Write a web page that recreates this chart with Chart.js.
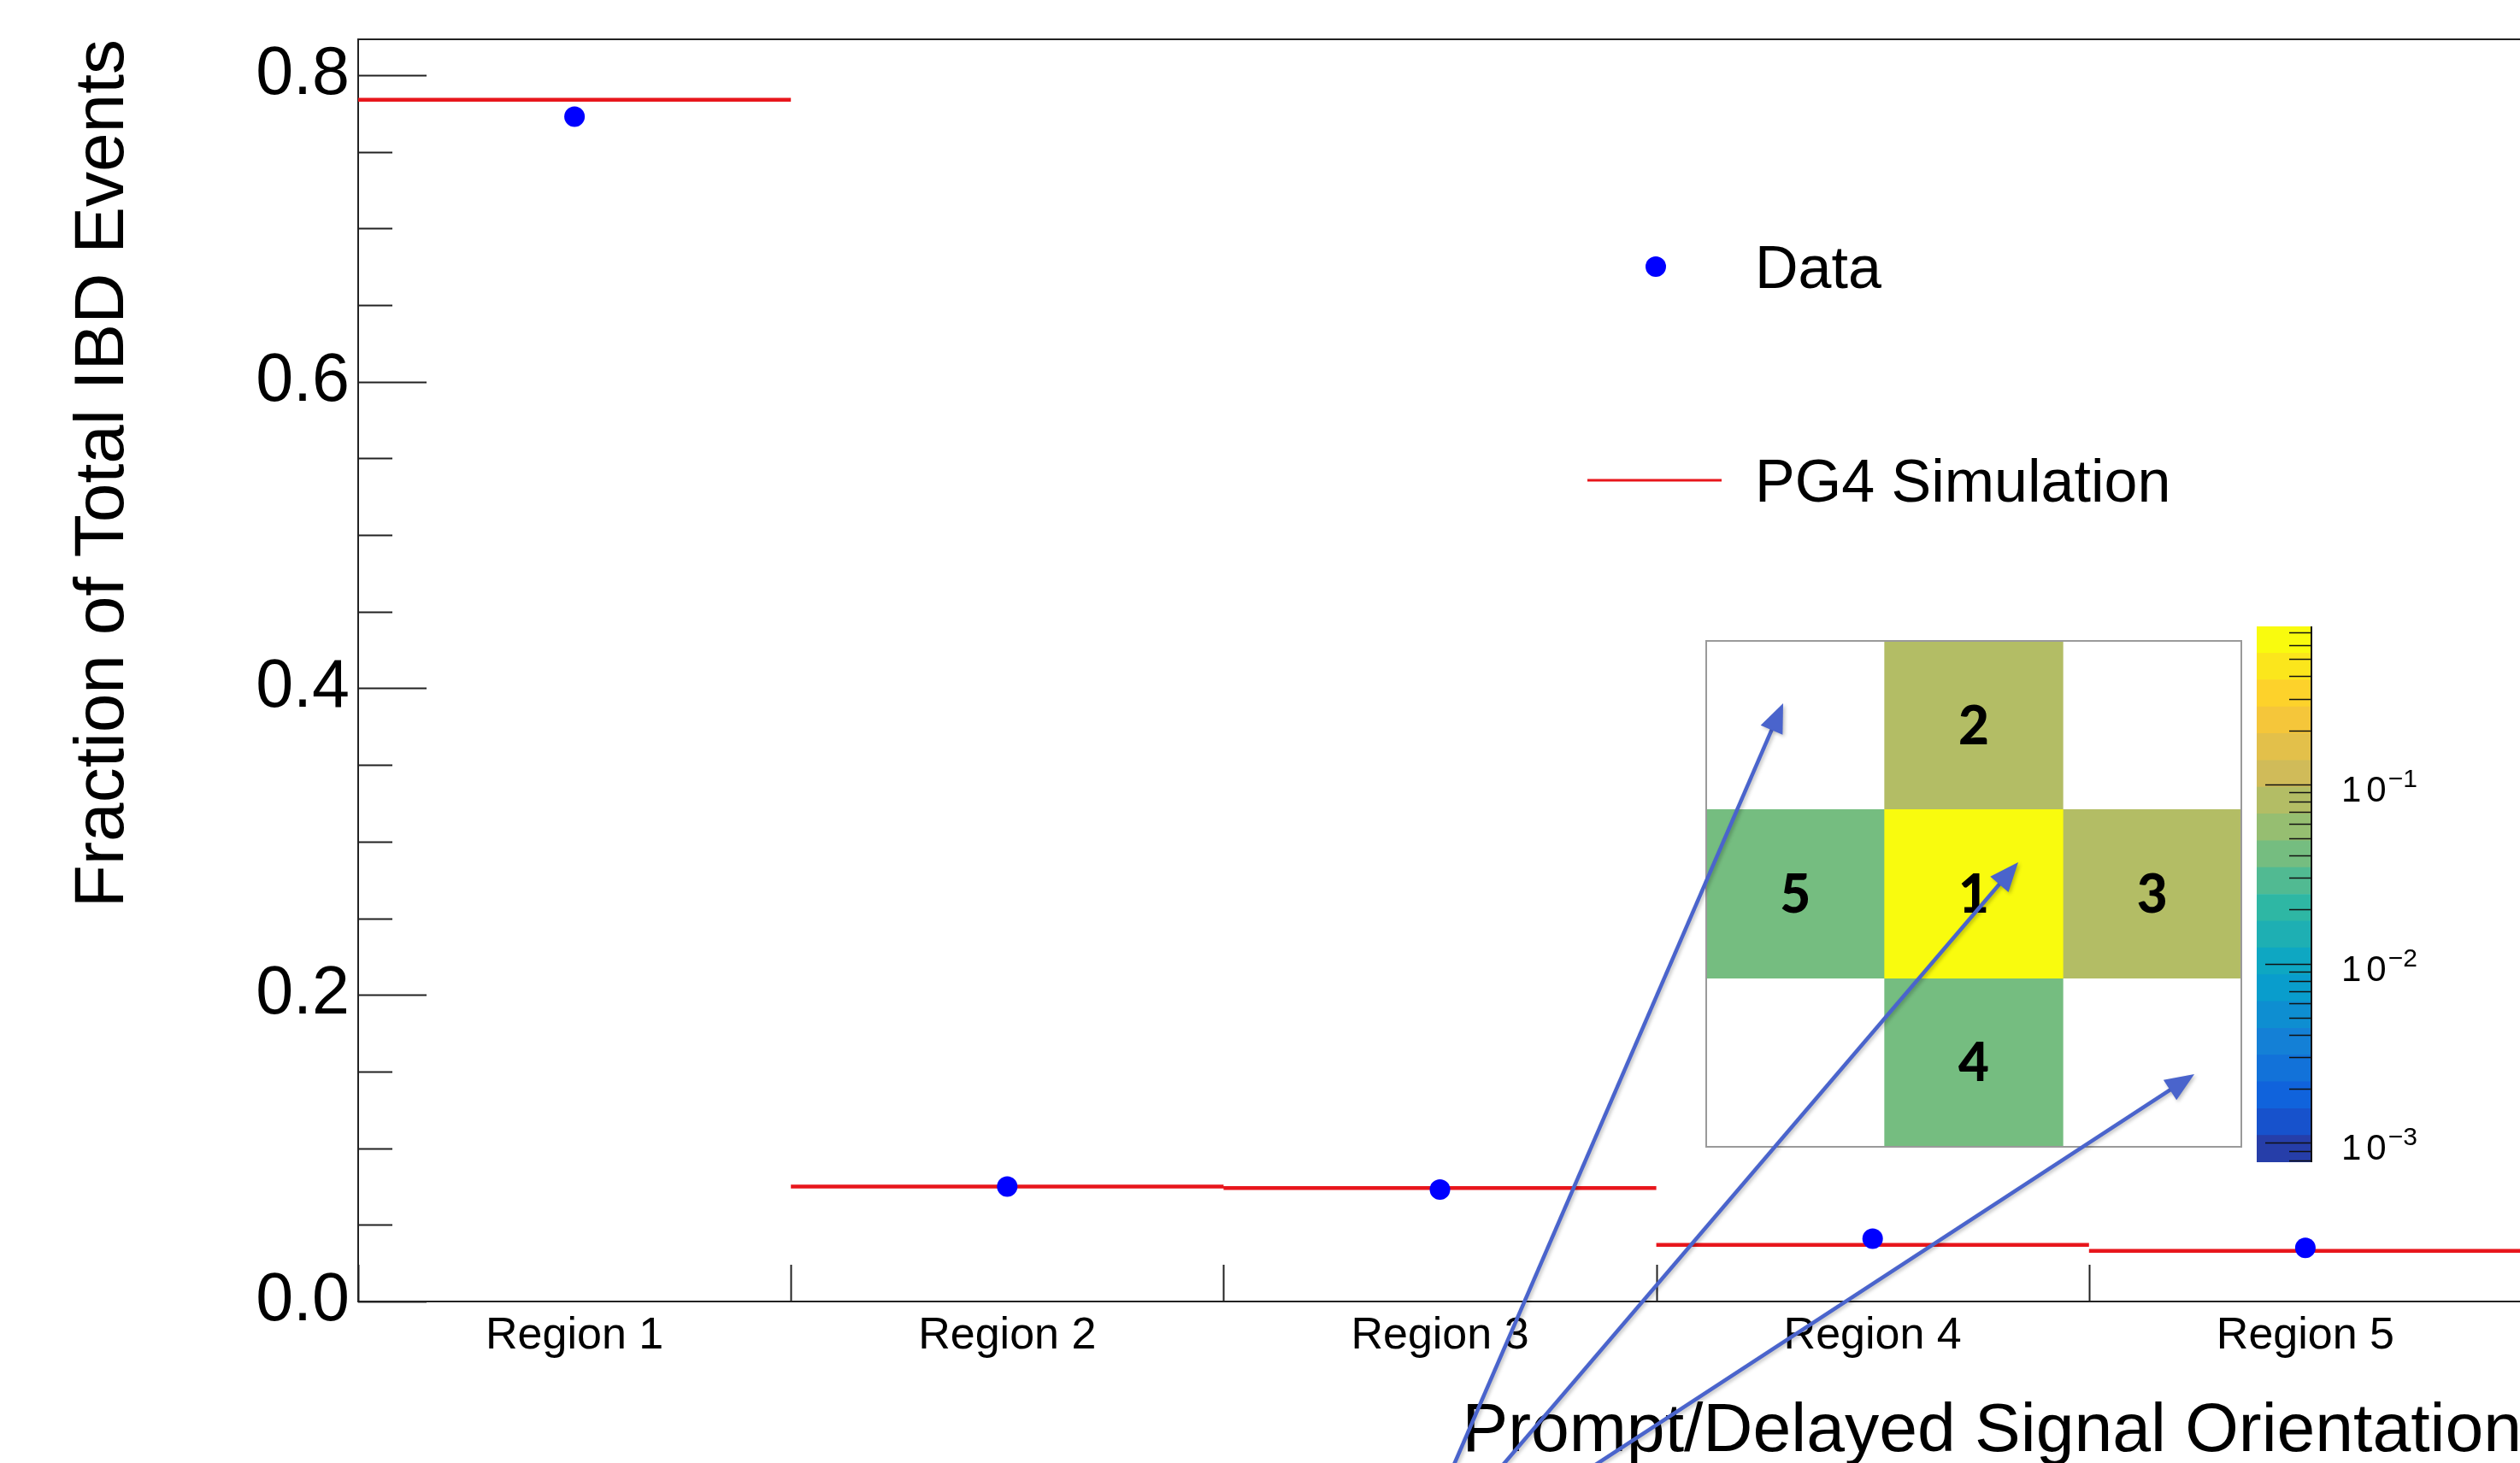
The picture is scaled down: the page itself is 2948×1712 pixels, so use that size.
<!DOCTYPE html>
<html>
<head>
<meta charset="utf-8">
<title>Prompt/Delayed Signal Orientation</title>
<script src="https://cdn.jsdelivr.net/npm/chart.js@4.4.1/dist/chart.umd.min.js"></script>
<style>
  html, body { margin: 0; padding: 0; background: #fff; overflow: hidden; width: 2948px; height: 1712px; }
  #stage { position: relative; width: 2948px; height: 1712px; overflow: hidden; background: #fff; }
  canvas { position: absolute; display: block; }
  #map  { left: 1994px; top: 748px; z-index: 1; }
  #zbar { left: 2636px; top: 713px; z-index: 1; }
  #main { left: 0; top: 0; z-index: 2; }
</style>
</head>
<body>
<div id="stage">
  <canvas id="map" width="630" height="596"></canvas>
  <canvas id="zbar" width="240" height="667"></canvas>
  <canvas id="main" width="2950" height="1712"></canvas>
</div>
<script>
// ---- values ----
const regions      = ['Region 1', 'Region 2', 'Region 3', 'Region 4', 'Region 5'];
const dataFraction = [0.773, 0.075, 0.073, 0.041, 0.035];
const simFraction  = [0.784, 0.075, 0.074, 0.037, 0.033];
const yMax         = 0.8234;
const yMajorStep   = 0.2;
const yMinorStep   = 0.05;

// detector cross: column / row of each region in the 3x3 map (row 0 = bottom)
const mapColumns   = ['L', 'C', 'R'];
const cellColumn   = ['C', 'C', 'R', 'C', 'L'];
const cellRow      = [1, 2, 1, 0, 1];

// colour axis (log scale)
const zRange       = [0.00078, 0.76];
const zDecades     = [-4, -3, -2, -1, 0];
// colour bands, bottom to top
const palette = ['#263ea9', '#1752cc', '#1063dc', '#1272d9', '#1480d6',
                 '#0e8ed1', '#099dcc', '#0ea7c2', '#1eafb3', '#2eb7a4',
                 '#51ba92', '#75bd80', '#96be71', '#b3bd65', '#d0bb59',
                 '#e3c04a', '#f5c63a', '#fdd22b', '#fbe61c', '#f9fb0e'];

// ---- styling / layout ----
const FONT = "'Liberation Sans', Arial, Helvetica, sans-serif";
const AXIS_COLOR = '#222';
const ARROW_COLOR = '#4a64cc';
const ARROWS = [
  { from: [1681, 1760], to: [2086, 823] },
  { from: [1719, 1760], to: [2361, 1009] },
  { from: [1796, 1760], to: [2567, 1257] }
];
const LEGEND = { markX: 1937, lineX0: 1857, lineX1: 2014, textX: 2053, rows: [312, 562], size: 70 };

Chart.defaults.font.family = FONT;
Chart.defaults.color = '#000';

function zColor(v) {
  const lo = Math.log10(zRange[0]), hi = Math.log10(zRange[1]);
  const f = (Math.log10(v) - lo) / (hi - lo);
  const k = Math.max(0, Math.min(palette.length - 1, Math.floor(f * palette.length)));
  return palette[k];
}

function line(ctx, x0, y0, x1, y1) {
  ctx.beginPath(); ctx.moveTo(x0, y0); ctx.lineTo(x1, y1); ctx.stroke();
}

// ---- main chart ----
const dataPoints = dataFraction.map((v, i) => ({ x: i + 0.5, y: v }));
const simSegments = [];
simFraction.forEach((v, i) => {
  simSegments.push({ x: i, y: v }, { x: i + 1, y: v }, { x: i + 1, y: null });
});

const framePlugin = {
  id: 'frame',
  beforeDatasetsDraw(chart) {
    const { ctx, chartArea: a, scales: { x, y } } = chart;
    ctx.save();
    ctx.strokeStyle = AXIS_COLOR;
    ctx.lineWidth = 2;
    ctx.strokeRect(a.left, a.top, a.right - a.left, a.bottom - a.top);
    const nMinor = Math.floor(y.max / yMinorStep + 1e-9);
    const perMajor = Math.round(yMajorStep / yMinorStep);
    for (let k = 0; k <= nMinor; k++) {
      const p = Math.round(y.getPixelForValue(k * yMinorStep)) + 0.5;
      const len = (k % perMajor === 0) ? 80 : 40;
      line(ctx, a.left, p, a.left + len, p);
    }
    for (let k = 0; k <= regions.length; k++) {
      const p = Math.round(x.getPixelForValue(k)) + 0.5;
      line(ctx, p, a.bottom, p, a.bottom - 43);
    }
    ctx.restore();
  }
};

const legendPlugin = {
  id: 'rootLegend',
  afterDraw(chart) {
    const { ctx } = chart;
    const ds = chart.data.datasets;
    ctx.save();
    ctx.font = LEGEND.size + 'px ' + FONT;
    ctx.textBaseline = 'alphabetic';
    ds.forEach((d, i) => {
      const yRow = LEGEND.rows[i];
      if (d.showLine === false) {
        ctx.fillStyle = d.pointBackgroundColor;
        ctx.beginPath(); ctx.arc(LEGEND.markX, yRow, d.pointRadius, 0, Math.PI * 2); ctx.fill();
      } else {
        ctx.strokeStyle = d.borderColor; ctx.lineWidth = 3;
        line(ctx, LEGEND.lineX0, yRow, LEGEND.lineX1, yRow);
      }
      ctx.fillStyle = '#000';
      ctx.fillText(d.label, LEGEND.textX, yRow + 25);
    });
    ctx.restore();
  }
};

const arrowPlugin = {
  id: 'arrows',
  afterDraw(chart) {
    const { ctx } = chart;
    ctx.save();
    ctx.strokeStyle = ARROW_COLOR;
    ctx.fillStyle = ARROW_COLOR;
    ctx.lineWidth = 4.5;
    ctx.shadowColor = 'rgba(0,0,0,0.25)';
    ctx.shadowBlur = 4; ctx.shadowOffsetX = 2; ctx.shadowOffsetY = 2;
    ARROWS.forEach(a => {
      const [x0, y0] = a.from, [x1, y1] = a.to;
      const L = Math.hypot(x1 - x0, y1 - y0);
      const ux = (x1 - x0) / L, uy = (y1 - y0) / L;
      const head = 34, half = 14;
      const bx = x1 - ux * head, by = y1 - uy * head;
      line(ctx, x0, y0, bx + ux * 2, by + uy * 2);
      ctx.beginPath();
      ctx.moveTo(x1, y1);
      ctx.lineTo(bx - uy * half, by + ux * half);
      ctx.lineTo(bx + uy * half, by - ux * half);
      ctx.closePath();
      ctx.fill();
    });
    ctx.restore();
  }
};

new Chart(document.getElementById('main'), {
  type: 'line',
  data: {
    datasets: [
      { label: 'Data', data: dataPoints, showLine: false, pointRadius: 12, pointHoverRadius: 12,
        pointBackgroundColor: '#0000ff', pointBorderColor: '#0000ff', pointBorderWidth: 0, order: 0 },
      { label: 'PG4 Simulation', data: simSegments, borderColor: '#e8161c', borderWidth: 4.5,
        pointRadius: 0, pointHoverRadius: 0, spanGaps: false, fill: false, tension: 0, order: 1 }
    ]
  },
  options: {
    responsive: false,
    devicePixelRatio: 1,
    animation: false,
    events: [],
    layout: { autoPadding: false, padding: { top: 46, left: 0, right: 0, bottom: 0 } },
    plugins: { legend: { display: false }, tooltip: { enabled: false } },
    scales: {
      x: {
        type: 'linear', min: 0, max: regions.length, position: 'bottom',
        grid: { display: false, drawTicks: false }, border: { display: false },
        ticks: {
          stepSize: 0.5, autoSkip: false, maxRotation: 0, minRotation: 0, padding: 9,
          font: { size: 52 }, color: '#000',
          callback: (v) => {
            const k = v - 0.5;
            return (Number.isInteger(k) && k >= 0 && k < regions.length) ? regions[k] : '';
          }
        },
        title: { display: true, text: 'Prompt/Delayed Signal Orientation', align: 'end', color: '#000',
                 font: { size: 80.5, lineHeight: 1 }, padding: { top: 0, bottom: -4 } },
        afterFit: (s) => { s.height = 189; s.paddingLeft = 0; s.paddingRight = 0; }
      },
      y: {
        type: 'linear', min: 0, max: yMax,
        grid: { display: false, drawTicks: false }, border: { display: false },
        ticks: { stepSize: yMajorStep, includeBounds: false, padding: 10, color: '#000',
                 font: { size: 79, lineHeight: 0.9 }, callback: (v) => Number(v).toFixed(1) },
        title: { display: true, text: 'Fraction of Total IBD Events', align: 'end', color: '#000',
                 font: { size: 82, lineHeight: 1 }, padding: { top: 80, bottom: 0 } },
        afterFit: (s) => { s.width = 419; s.paddingTop = 0; s.paddingBottom = 0; }
      }
    }
  },
  plugins: [framePlugin, legendPlugin, arrowPlugin]
});

// ---- detector map inset ----
const cellLabelPlugin = {
  id: 'cellLabels',
  afterDatasetsDraw(chart) {
    const { ctx, chartArea: a } = chart;
    ctx.save();
    ctx.font = "900 62px Lato, 'Open Sans', sans-serif";
    ctx.fillStyle = '#000';
    ctx.textAlign = 'center';
    ctx.textBaseline = 'alphabetic';
    chart.data.datasets.forEach((d, i) => {
      const el = chart.getDatasetMeta(i).data[0];
      if (!el) return;
      const cy = (el.y + el.base) / 2;
      ctx.fillText(String(i + 1), el.x, cy + 22);
    });
    ctx.strokeStyle = '#9a9a9a';
    ctx.lineWidth = 2;
    ctx.strokeRect(a.left, a.top, a.right - a.left, a.bottom - a.top);
    ctx.restore();
  }
};

new Chart(document.getElementById('map'), {
  type: 'bar',
  data: {
    labels: mapColumns,
    datasets: regions.map((r, i) => ({
      label: r,
      data: [{ x: cellColumn[i], y: [cellRow[i], cellRow[i] + 1] }],
      backgroundColor: zColor(dataFraction[i]),
      borderWidth: 0, barPercentage: 1, categoryPercentage: 1, grouped: false
    }))
  },
  options: {
    responsive: false, devicePixelRatio: 1, animation: false, events: [],
    layout: { padding: 2 },
    plugins: { legend: { display: false }, tooltip: { enabled: false } },
    scales: {
      x: { display: false, offset: true },
      y: { display: false, min: 0, max: 3 }
    }
  },
  plugins: [cellLabelPlugin]
});

// ---- colour bar ----
const zBandEdges = palette.map((_, i) => zRange[0] * Math.pow(zRange[1] / zRange[0], i / palette.length));
zBandEdges.push(zRange[1]);

const zAxisPlugin = {
  id: 'zAxis',
  afterDatasetsDraw(chart) {
    const { ctx, chartArea: a, scales: { y } } = chart;
    ctx.save();
    ctx.strokeStyle = '#111';
    ctx.lineWidth = 2;
    line(ctx, a.right, a.top, a.right, a.bottom);
    ctx.lineWidth = 1.5;
    zDecades.forEach(d => {
      for (let m = 1; m <= 9; m++) {
        const v = m * Math.pow(10, d);
        if (v < zRange[0] || v > zRange[1]) continue;
        const p = Math.round(y.getPixelForValue(v)) + 0.5;
        line(ctx, a.right, p, a.right - (m === 1 ? 54 : 26), p);
        if (m === 1) {
          ctx.fillStyle = '#000';
          ctx.textBaseline = 'alphabetic';
          ctx.textAlign = 'left';
          ctx.font = '42px ' + FONT;
          ctx.letterSpacing = '6px';
          ctx.fillText('10', a.right + 35, p + 19);
          const w = ctx.measureText('10').width;
          ctx.letterSpacing = '0px';
          ctx.font = '30px ' + FONT;
          ctx.fillText('\u2212' + Math.abs(d), a.right + 35 + w - 4, p + 2);
        }
      }
    });
    ctx.restore();
  }
};

new Chart(document.getElementById('zbar'), {
  type: 'bar',
  data: {
    labels: ['z'],
    datasets: palette.map((c, i) => ({
      data: [[zBandEdges[i], zBandEdges[i + 1]]],
      backgroundColor: c, borderWidth: 0, barPercentage: 1, categoryPercentage: 1, grouped: false
    }))
  },
  options: {
    responsive: false, devicePixelRatio: 1, animation: false, events: [],
    layout: { padding: { left: 4, right: 172, top: 20, bottom: 20 } },
    plugins: { legend: { display: false }, tooltip: { enabled: false } },
    scales: {
      x: { display: false, offset: true },
      y: { display: false, type: 'logarithmic', min: zRange[0], max: zRange[1] }
    }
  },
  plugins: [zAxisPlugin]
});
</script>
</body>
</html>
